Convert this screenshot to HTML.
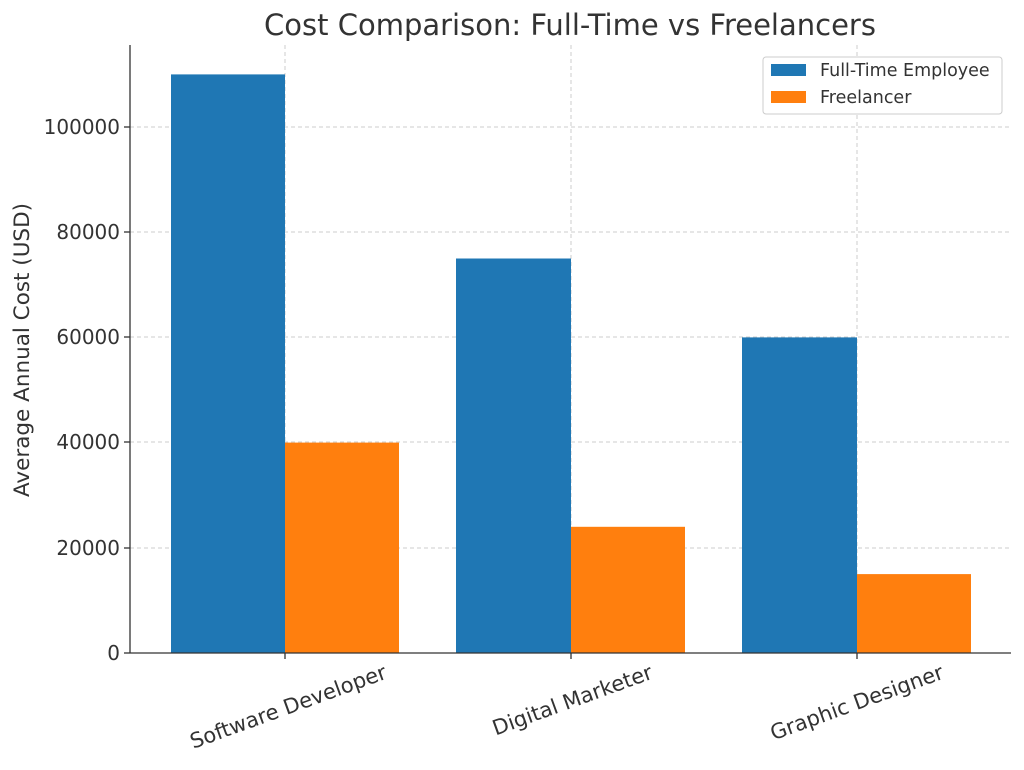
<!DOCTYPE html>
<html><head><meta charset="utf-8"><style>body{margin:0;background:#fff}</style></head><body>
<svg width="1024" height="765" xmlns="http://www.w3.org/2000/svg" font-family="DejaVu Sans, Liberation Sans, sans-serif" fill="#333">
<rect width="1024" height="765" fill="#fff"/>
<text x="570" y="35" font-size="29" text-anchor="middle" fill="#333">Cost Comparison: Full-Time vs Freelancers</text>
<g stroke="#ccc" stroke-dasharray="4,3" stroke-width="1">
<line x1="130" x2="1011" y1="548" y2="548"/><line x1="130" x2="1011" y1="442" y2="442"/>
<line x1="130" x2="1011" y1="337" y2="337"/><line x1="130" x2="1011" y1="232" y2="232"/>
<line x1="130" x2="1011" y1="127" y2="127"/>
<line x1="285" x2="285" y1="45" y2="653"/><line x1="571" x2="571" y1="45" y2="653"/><line x1="857" x2="857" y1="45" y2="653"/>
</g>
<g fill="#1f77b4"><rect x="171" y="74.4" width="114" height="578.6"/><rect x="456" y="258.5" width="115" height="394.5"/><rect x="742" y="337.4" width="115" height="315.6"/></g>
<g fill="#ff7f0e"><rect x="285" y="442.6" width="114" height="210.4"/><rect x="571" y="526.8" width="114" height="126.2"/><rect x="857" y="574.1" width="114" height="78.9"/></g>
<g stroke="#333" stroke-width="1.3"><line x1="130" y1="45" x2="130" y2="653"/><line x1="130" y1="653" x2="1011" y2="653"/>
<line x1="124" x2="130" y1="653" y2="653"/><line x1="124" x2="130" y1="548" y2="548"/><line x1="124" x2="130" y1="442" y2="442"/><line x1="124" x2="130" y1="337" y2="337"/><line x1="124" x2="130" y1="232" y2="232"/><line x1="124" x2="130" y1="127" y2="127"/>
<line x1="285" x2="285" y1="653" y2="659"/><line x1="571" x2="571" y1="653" y2="659"/><line x1="857" x2="857" y1="653" y2="659"/></g>
<g font-size="20" text-anchor="end"><text x="120" y="660">0</text><text x="120" y="555">20000</text><text x="120" y="449">40000</text><text x="120" y="344">60000</text><text x="120" y="239">80000</text><text x="120" y="134">100000</text></g>
<text transform="translate(29,350) rotate(-90)" font-size="21.5" text-anchor="middle">Average Annual Cost (USD)</text>
<g font-size="21" text-anchor="end">
<text transform="translate(388,678) rotate(-20)">Software Developer</text>
<text transform="translate(654,678) rotate(-20)">Digital Marketer</text>
<text transform="translate(945,678) rotate(-20)">Graphic Designer</text></g>
<rect x="763" y="57" width="239" height="57" rx="3" fill="#fff" stroke="#ccc"/>
<rect x="771" y="64" width="35" height="12" fill="#1f77b4"/><text x="820" y="76" font-size="17.5">Full-Time Employee</text>
<rect x="771" y="91" width="35" height="12" fill="#ff7f0e"/><text x="820" y="103" font-size="17.5">Freelancer</text>
</svg></body></html>
